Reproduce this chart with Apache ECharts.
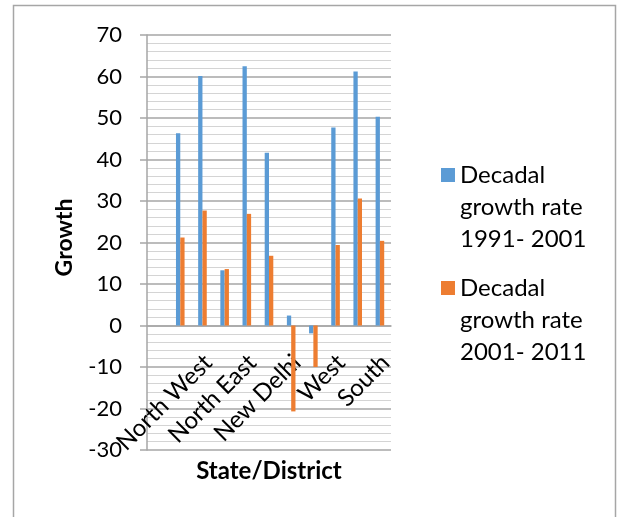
<!DOCTYPE html>
<html>
<head>
<meta charset="utf-8">
<script src="https://cdn.jsdelivr.net/npm/echarts@6/dist/echarts.min.js"></script>
<style>
html,body{margin:0;padding:0;background:#fff;}
#chart{width:617px;height:517px;}
</style>
</head>
<body>
<div id="chart"></div>
<script>
// Categories (first slot is an empty category in the source chart)
const categories = ['', 'Delhi', 'North West', 'North', 'North East', 'East', 'New Delhi', 'Central', 'West', 'South West', 'South'];
const seriesNames = ['Decadal\ngrowth rate\n1991- 2001', 'Decadal\ngrowth rate\n2001- 2011'];
const growth1991_2001 = [null, 46.3, 60.1, 13.3, 62.5, 41.6, 2.4, -1.9, 47.7, 61.2, 50.3];
const growth2001_2011 = [null, 21.2, 27.7, 13.6, 26.9, 16.8, -20.7, -10.0, 19.4, 30.6, 20.4];
const yTicks = {min: -30, max: 70, interval: 10};

const FONT = 'Lato, "Open Sans", sans-serif';
const legendIcon = 'path://M0,0H0.1V0.1H0Z M0,9H14V23H0Z M0,96H0.1V96.1H0Z';

const gridTop = 35, gridBottomPx = 450;
const zeroPx = gridTop + (gridBottomPx - gridTop) * (yTicks.max - 0) / (yTicks.max - yTicks.min);

const chart = echarts.init(document.getElementById('chart'), null, {renderer: 'canvas'});
chart.setOption({
  backgroundColor: '#fff',
  animation: false,
  textStyle: {fontFamily: FONT, color: '#000'},
  graphic: [{
    type: 'rect',
    shape: {x: 13.5, y: 5.5, width: 602, height: 530},
    style: {fill: 'none', stroke: '#a6a6a6', lineWidth: 1.5},
    silent: true
  }],
  grid: {left: 147, right: 226, top: gridTop, bottom: 517 - gridBottomPx, containLabel: false, outerBoundsMode: 'none'},
  legend: {
    orient: 'vertical',
    left: 436,
    top: 154,
    itemWidth: 14,
    itemHeight: 96,
    itemGap: 17,
    selectedMode: false,
    data: seriesNames.map(n => ({name: n, icon: legendIcon})),
    textStyle: {fontFamily: FONT, fontSize: 24, lineHeight: 32, color: '#000'}
  },
  xAxis: {
    type: 'category',
    position: 'bottom',
    offset: -(gridBottomPx - zeroPx),
    data: categories,
    name: 'State/District',
    nameLocation: 'middle',
    nameGap: 134,
    nameMoveOverlap: false,
    nameTextStyle: {fontFamily: FONT, fontSize: 24, fontWeight: 'bold', color: '#000'},
    axisLine: {onZero: false, lineStyle: {color: '#a6a6a6', width: 1.5}},
    axisTick: {show: false},
    axisLabel: {
      interval: 1,
      rotate: 45,
      margin: 22,
      verticalAlign: 'top',
      padding: [0, 4, 0, 0],
      fontFamily: FONT,
      fontSize: 24,
      color: '#000'
    },
    splitLine: {show: false}
  },
  yAxis: {
    type: 'value',
    min: yTicks.min,
    max: yTicks.max,
    interval: yTicks.interval,
    name: 'Growth',
    nameLocation: 'middle',
    nameGap: 71,
    nameMoveOverlap: false,
    nameTextStyle: {fontFamily: FONT, fontSize: 23, fontWeight: 'bold', color: '#000', padding: [0, 0, 0, 10]},
    axisLine: {show: true, lineStyle: {color: '#a6a6a6', width: 1.5}},
    axisTick: {show: true, length: 7, lineStyle: {color: '#a6a6a6', width: 1.5}},
    axisLabel: {margin: 25, fontFamily: FONT, fontSize: 22, color: '#000'},
    splitLine: {show: true, lineStyle: {color: '#a6a6a6', width: 1.5}},
    minorTick: {show: false, splitNumber: 5},
    minorSplitLine: {show: true, lineStyle: {color: '#d4d4d4', width: 1.2}}
  },
  series: [
    {
      name: seriesNames[0],
      type: 'bar',
      data: growth1991_2001,
      barWidth: 4.3,
      barGap: '0%',
      itemStyle: {color: '#5b9bd5'}
    },
    {
      name: seriesNames[1],
      type: 'bar',
      data: growth2001_2011,
      barWidth: 4.3,
      barGap: '0%',
      itemStyle: {color: '#ed7d31'}
    }
  ]
});
</script>
</body>
</html>
